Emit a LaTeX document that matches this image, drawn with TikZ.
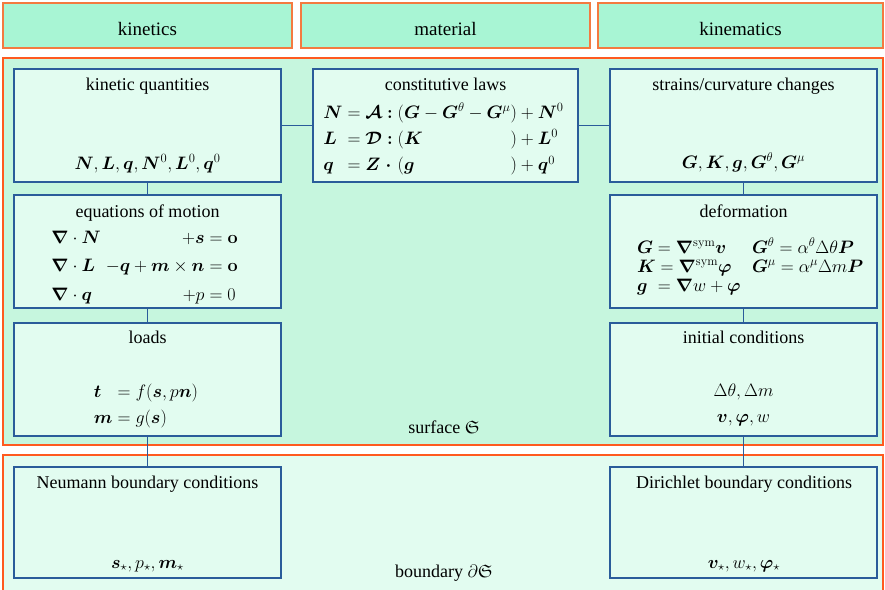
\documentclass[tikz,border=0pt]{standalone}
\usepackage{fix-cm}
\usepackage{amsmath,amssymb}
\usepackage{bm}
\usepackage[no-math]{fontspec}
\setmainfont{Liberation Serif}
\definecolor{hdrfill}{HTML}{A8F5D4}
\definecolor{surffill}{HTML}{C6F6DE}
\definecolor{boxfill}{HTML}{E2FCF0}
\definecolor{orng}{HTML}{FF5A1F}
\definecolor{hdrline}{HTML}{F47A40}
\definecolor{blueline}{HTML}{2A5C9A}
\tikzset{
  area/.style={draw=orng, line width=1.4pt, inner sep=0pt, outer sep=0pt, anchor=north west},
  hdr/.style={draw=hdrline, line width=1.2pt, fill=hdrfill, inner sep=0pt, outer sep=0pt, anchor=north west},
  card/.style={draw=blueline, line width=1.1pt, fill=boxfill, inner sep=0pt, outer sep=0pt, anchor=north west},
  link/.style={draw=blueline, line width=1pt},
  txt/.style={anchor=base, inner sep=0pt, outer sep=0pt},
  txtw/.style={anchor=base west, inner sep=0pt, outer sep=0pt},
}
\begin{document}
\begin{tikzpicture}[x=1pt,y=-1pt,font=\fontsize{18}{22}\selectfont]
\useasboundingbox (0,0) rectangle (885,589);
% header row
\node[hdr, minimum width=289pt, minimum height=45pt] (hk) at (3,3) {};
\node[hdr, minimum width=289pt, minimum height=45pt] (hm) at (301,3) {};
\node[hdr, minimum width=285pt, minimum height=45pt] (hc) at (598,3) {};
\node[txt, font=\fontsize{19}{22}\selectfont] (hkT) at (147.5,35) {kinetics};
\node[txt, font=\fontsize{19}{22}\selectfont] (hmT) at (445.5,35) {material};
\node[txt, font=\fontsize{19}{22}\selectfont] (hcT) at (740.5,35) {kinematics};
% areas
\node[area, fill=surffill, minimum width=880pt, minimum height=387pt] (surf) at (3,58) {};
\node[area, fill=boxfill, minimum width=880pt, minimum height=140pt] (bnd) at (3,455) {};
\node[txt] (surfT) at (444,433) {surface $\mathfrak{S}$};
\node[txt] (bndT) at (444,577) {boundary $\partial\mathfrak{S}$};
% boxes
\node[card, minimum width=267pt, minimum height=113pt] (kq) at (14,69) {};
\node[card, minimum width=265pt, minimum height=113pt] (cl) at (313,69) {};
\node[card, minimum width=267pt, minimum height=113pt] (sc) at (610,69) {};
\node[card, minimum width=267pt, minimum height=113pt] (em) at (14,195) {};
\node[card, minimum width=267pt, minimum height=113pt] (df) at (610,195) {};
\node[card, minimum width=267pt, minimum height=113pt] (ld) at (14,323) {};
\node[card, minimum width=267pt, minimum height=113pt] (ic) at (610,323) {};
\node[card, minimum width=267pt, minimum height=111pt] (nb) at (14,467) {};
\node[card, minimum width=267pt, minimum height=111pt] (db) at (610,467) {};
% connectors
\draw[link] (kq.east) -- (cl.west);
\draw[link] (cl.east) -- (sc.west);
\draw[link] (kq.south) -- (em.north);
\draw[link] (em.south) -- (ld.north);
\draw[link] (ld.south) -- (nb.north);
\draw[link] (sc.south) -- (df.north);
\draw[link] (df.south) -- (ic.north);
\draw[link] (ic.south) -- (db.north);
% kinetic quantities
\node[txt] (kqT) at (147.5,90) {kinetic quantities};
\node[txt] (kqB) at (147.5,169) {$\bm{N}, \bm{L}, \bm{q}, \bm{N}^0, \bm{L}^0, \bm{q}^0$};
% constitutive laws
\node[txt] (clT) at (445.5,90) {constitutive laws};
\node[txt] (clB) at (443.5,118) {\renewcommand{\arraystretch}{1.2}$\begin{array}[t]{@{}l@{\;=\;}l@{\;}l@{}l@{}}
\bm{N} & \bm{\mathcal{A}}\bm{:} & (\bm{G}-\bm{G}^{\theta}-\bm{G}^{\mu} & )+\bm{N}^0\\
\bm{L} & \bm{\mathcal{D}}\bm{:} & (\bm{K} & )+\bm{L}^0\\
\bm{q} & \bm{Z}\;\bm{\cdot} & (\bm{g} & )+\bm{q}^0
\end{array}$};
% strains
\node[txt] (scT) at (743.5,90) {strains/curvature changes};
\node[txt] (scB) at (743.5,168) {$\bm{G}, \bm{K}, \bm{g}, \bm{G}^{\theta}, \bm{G}^{\mu}$};
% equations of motion
\node[txt] (emT) at (147.5,217) {equations of motion};
\node[txt] (emB) at (144.5,243) {\renewcommand{\arraystretch}{1.3}$\begin{array}[t]{@{}l@{\;}r@{\;=\;}l@{}}
\bm{\nabla}\cdot\bm{N} & +\bm{s} & \mathbf{o}\\
\bm{\nabla}\cdot\bm{L} & -\bm{q}+\bm{m}\times\bm{n} & \mathbf{o}\\
\bm{\nabla}\cdot\bm{q} & +p & 0
\end{array}$};
% deformation
\node[txt] (dfT) at (743.5,217) {deformation};
\node[txtw] (df1) at (637,253) {$\bm{G}=\bm{\nabla}^{\mathrm{sym}}\bm{v}$};
\node[txtw] (df2) at (637,272) {$\bm{K}=\bm{\nabla}^{\mathrm{sym}}\bm{\varphi}$};
\node[txtw] (df3) at (637,291) {$\rlap{$\bm{g}$}\hphantom{\bm{G}}=\bm{\nabla}w+\bm{\varphi}$};
\node[txtw] (df4) at (752,253) {$\bm{G}^{\theta}=\alpha^{\theta}\Delta\theta\bm{P}$};
\node[txtw] (df5) at (752,272) {$\bm{G}^{\mu}=\alpha^{\mu}\Delta m\bm{P}$};
% loads
\node[txt] (ldT) at (147.5,343) {loads};
\node[txt] (ldB) at (146,397) {\renewcommand{\arraystretch}{1.2}$\begin{array}[t]{@{}l@{\;=\;}l@{}}
\bm{t} & f(\bm{s},p\bm{n})\\
\bm{m} & g(\bm{s})
\end{array}$};
% initial conditions
\node[txt] (icT) at (743.5,343) {initial conditions};
\node[txt] (ic1) at (743.5,396) {$\Delta\theta, \Delta m$};
\node[txt] (ic2) at (743.5,422) {$\bm{v}, \bm{\varphi}, w$};
% boundary conditions
\node[txt] (nbT) at (147.5,488) {Neumann boundary conditions};
\node[txt] (nbB) at (147.5,568) {$\bm{s}_{\star}, p_{\star}, \bm{m}_{\star}$};
\node[txt] (dbT) at (744,488) {Dirichlet boundary conditions};
\node[txt] (dbB) at (744,568) {$\bm{v}_{\star}, w_{\star}, \bm{\varphi}_{\star}$};
\end{tikzpicture}
\end{document}
